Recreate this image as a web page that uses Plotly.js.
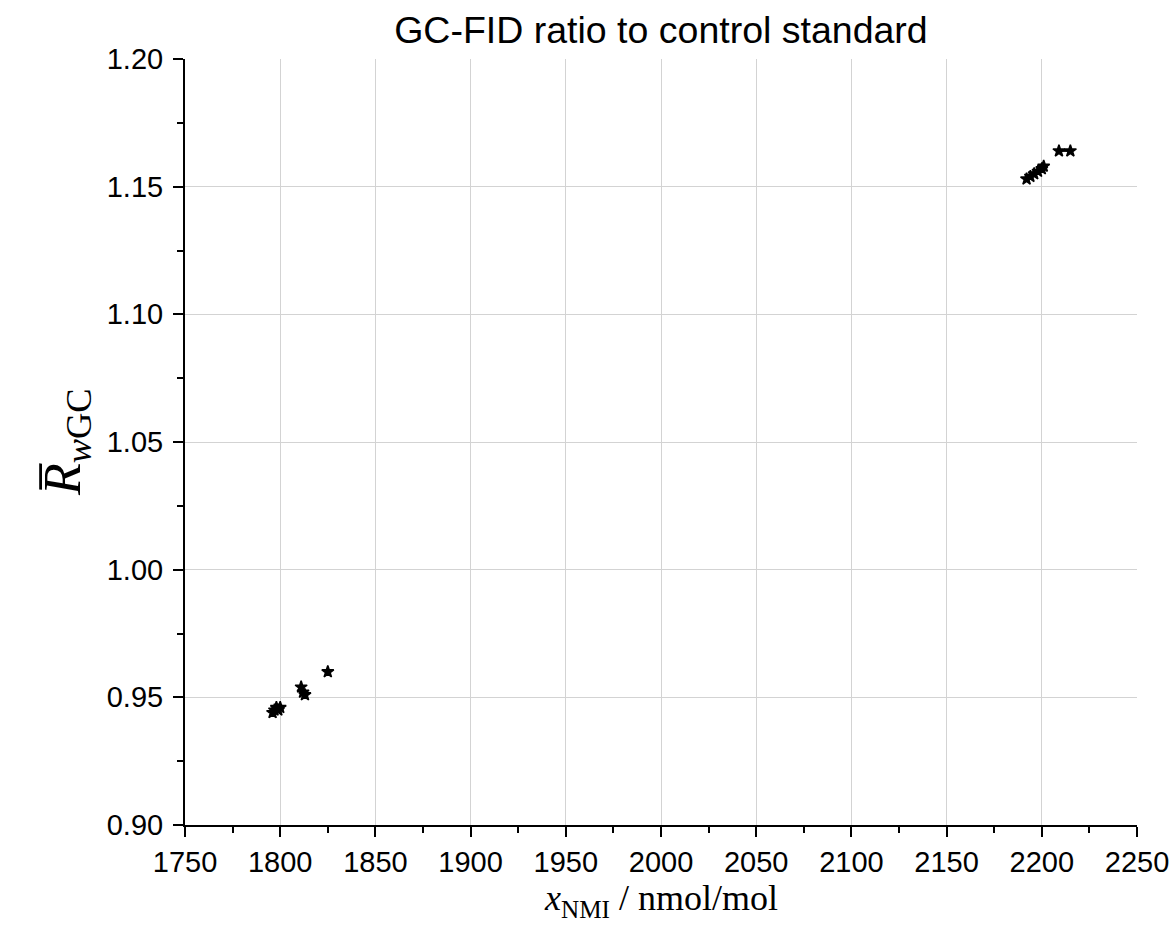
<!DOCTYPE html>
<html>
<head>
<meta charset="utf-8">
<script src="https://cdn.plot.ly/plotly-3.0.1.min.js"></script>
<style>body{margin:0;background:#fff;}#chart{width:1175px;height:937px;}</style>
</head>
<body>
<div id="chart"></div>
<script>
// Data
const xNMI = [1796, 1797, 1798, 1799, 1800, 1811, 1812, 1813, 1825, 2192, 2194, 2196, 2198, 2200, 2201];
const rwGC = [0.944, 0.945, 0.946, 0.945, 0.946, 0.954, 0.952, 0.951, 0.960, 1.153, 1.154, 1.155, 1.156, 1.157, 1.158];
const xPair = [2209, 2215];
const yPair = [1.164, 1.164];
const xTickVals = [1750, 1800, 1850, 1900, 1950, 2000, 2050, 2100, 2150, 2200, 2250];
const yTickVals = [0.90, 0.95, 1.00, 1.05, 1.10, 1.15, 1.20];
const xTitle = '<i>x</i><sub>NMI</sub> / nmol/mol';
const yTitle = '<i>R\u0305</i><sub><i>w</i>GC</sub>';

const marker = {symbol: 'star', size: 9, color: '#000', line: {color: '#000', width: 1.5}};
const traces = [
  {type: 'scatter', mode: 'markers', x: xNMI, y: rwGC, marker: marker, showlegend: false},
  {type: 'scatter', mode: 'lines+markers', x: xPair, y: yPair, marker: marker,
   line: {color: '#000', width: 2}, showlegend: false}
];

const axisCommon = {
  showline: true, linecolor: '#000', linewidth: 2,
  ticks: 'outside', ticklen: 10, tickwidth: 2, tickcolor: '#000',
  showgrid: true, gridcolor: '#d3d3d3', gridwidth: 1,
  zeroline: false, mirror: false,
  tickfont: {family: 'Liberation Sans, Arial', size: 29, color: '#000'}
};

const layout = {
  width: 1175, height: 937,
  margin: {l: 185, r: 38, t: 59, b: 112},
  paper_bgcolor: '#fff', plot_bgcolor: '#fff',
  title: {text: 'GC-FID ratio to control standard', x: 0.5625, xanchor: 'center', y: 0.968, yanchor: 'middle',
          font: {family: 'Liberation Sans, Arial', size: 37.5, color: '#000'}},
  xaxis: Object.assign({}, axisCommon, {
    range: [1750, 2250], tickvals: xTickVals, ticktext: xTickVals.map(String),
    minor: {dtick: 25, tick0: 1750, ticks: 'outside', ticklen: 6, tickwidth: 2, tickcolor: '#000', showgrid: false},
    ticklabelstandoff: 0
  }),
  yaxis: Object.assign({}, axisCommon, {
    range: [0.90, 1.20], tickvals: yTickVals, ticktext: yTickVals.map(v => v.toFixed(2)),
    minor: {dtick: 0.025, tick0: 0.9, ticks: 'outside', ticklen: 6, tickwidth: 2, tickcolor: '#000', showgrid: false},
    ticklabelstandoff: 4
  }),
  annotations: [
    {text: xTitle, xref: 'paper', yref: 'paper', x: 0.5, y: -0.066, xanchor: 'center', yanchor: 'top',
     showarrow: false, font: {family: 'Liberation Serif, Times New Roman', size: 36, color: '#000'}},
    {text: yTitle, xref: 'paper', yref: 'paper', x: -0.125, y: 0.5, xanchor: 'center', yanchor: 'middle',
     textangle: -90, showarrow: false, font: {family: 'Liberation Serif, Times New Roman', size: 52, color: '#000'}}
  ]
};

Plotly.newPlot('chart', traces, layout, {displayModeBar: false, staticPlot: true});
</script>
</body>
</html>
